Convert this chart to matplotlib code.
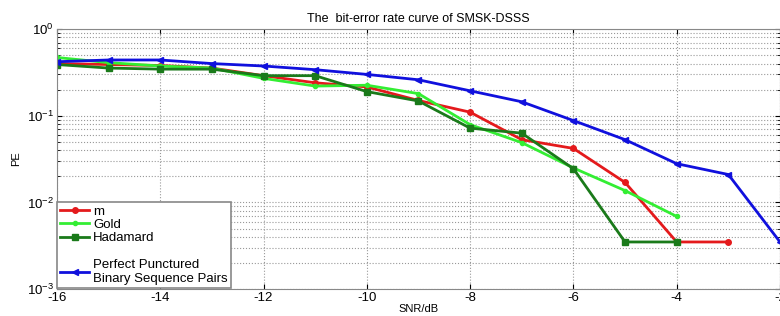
import matplotlib
matplotlib.use('Agg')
import matplotlib.pyplot as plt
import matplotlib.ticker as ticker

plt.rcParams['font.family'] = ['Liberation Sans', 'DejaVu Sans']
plt.rcParams['axes.unicode_minus'] = False

# SNR points (dB)
snr_m = [-16, -15, -14, -13, -12, -11, -10, -9, -8, -7, -6, -5, -4, -3]
pe_m = [0.40, 0.39, 0.38, 0.355, 0.29, 0.24, 0.215, 0.15, 0.11, 0.053, 0.042, 0.017, 0.0035, 0.0035]

snr_gold = [-16, -15, -14, -13, -12, -11, -10, -9, -8, -7, -6, -5, -4]
pe_gold = [0.47, 0.41, 0.375, 0.355, 0.27, 0.22, 0.225, 0.18, 0.079, 0.049, 0.025, 0.0137, 0.0069]

snr_had = [-16, -15, -14, -13, -12, -11, -10, -9, -8, -7, -6, -5, -4]
pe_had = [0.39, 0.355, 0.345, 0.345, 0.29, 0.29, 0.19, 0.148, 0.072, 0.063, 0.0245, 0.0035, 0.0035]

snr_ppb = [-16, -15, -14, -13, -12, -11, -10, -9, -8, -7, -6, -5, -4, -3, -2]
pe_ppb = [0.42, 0.44, 0.44, 0.40, 0.375, 0.34, 0.30, 0.26, 0.194, 0.145, 0.088, 0.053, 0.028, 0.021, 0.0035]

fig = plt.figure(figsize=(7.8, 3.16), dpi=100)
ax = fig.add_axes([0.073, 0.085, 0.927, 0.823])

ax.semilogy(snr_m, pe_m, color='#e41a1c', lw=2, marker='o', ms=4, label='m')
ax.semilogy(snr_gold, pe_gold, color='#33ee33', lw=2, marker='.', ms=6, label='Gold')
ax.semilogy(snr_had, pe_had, color='#1a7a1a', lw=2, marker='s', ms=4, label='Hadamard')
ax.semilogy([], [], color='none', label=' ')
ax.semilogy(snr_ppb, pe_ppb, color='#1010dd', lw=2, marker='<', ms=5,
            label='Perfect Punctured\nBinary Sequence Pairs')

ax.set_xlim(-16, -2)
ax.set_ylim(1e-3, 1)
ax.set_xticks(range(-16, -1, 2))
ax.yaxis.set_major_locator(ticker.LogLocator(base=10, numticks=5))
ax.yaxis.set_minor_locator(ticker.LogLocator(base=10, subs=range(2, 10), numticks=10))
ax.yaxis.set_minor_formatter(ticker.NullFormatter())

ax.grid(True, which='major', ls=':', color='#999999', lw=0.8)
ax.grid(True, which='minor', axis='y', ls=':', color='#999999', lw=0.8)
ax.tick_params(direction='in', which='both', labelsize=9.5, top=True, right=True, pad=2)
for s in ax.spines.values():
    s.set_color('#888888')

ax.set_title('The  bit-error rate curve of SMSK-DSSS', fontsize=9, pad=5)
ax.set_xlabel('SNR/dB', fontsize=8, labelpad=0)
ax.set_ylabel('PE', fontsize=8)

leg = ax.legend(loc='upper left', bbox_to_anchor=(0.0, 0.334), fontsize=9.5,
                handlelength=2.2, handletextpad=0.3, borderpad=0.25,
                labelspacing=0.08, fancybox=False, framealpha=1,
                borderaxespad=0)
leg.get_frame().set_edgecolor('#888888')
leg.get_frame().set_linewidth(1.2)

plt.savefig('out.png', dpi=100)
plt.close(fig)
